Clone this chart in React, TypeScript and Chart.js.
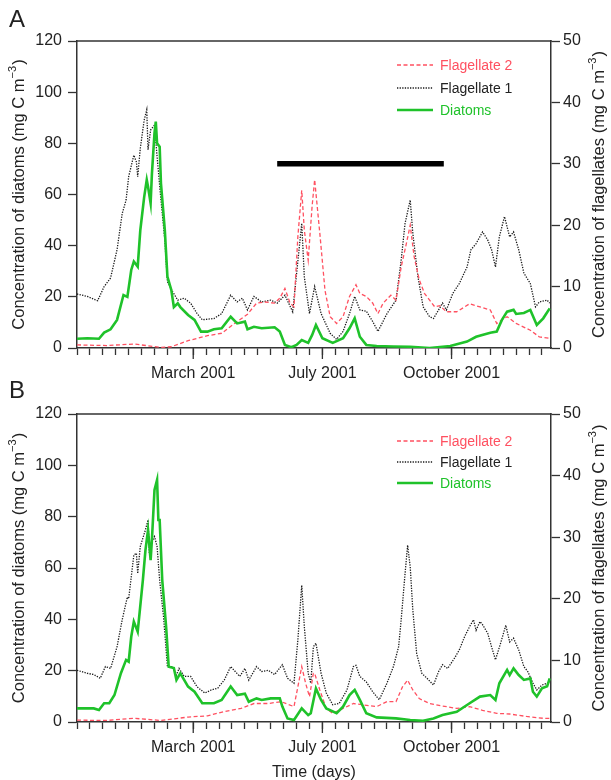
import React, { useEffect, useRef } from 'react';
import { Chart, registerables } from 'chart.js';

Chart.register(...registerables);

const FONT = '"Liberation Sans", Arial, Helvetica, sans-serif';
const AXIS = '#333333';
const TEXT = '#222222';
const RED = '#ff5060';
const BLACK = '#1a1a1a';
const GREEN = '#1fc22a';

// x axis: day of year (ticks every 10 days)
const X_MAX = 367;
const X_LABEL_DAYS = [90, 190, 290];
const X_LABEL_TEXT = ['March 2001', 'July 2001', 'October 2001'];
const LEGEND_NAMES = ['Flagellate 2', 'Flagellate 1', 'Diatoms'];

// ---------- Panel A ----------
const A_DIAT_DAYS = [0,8,17,21,26,31,36,39,42,44,47,49,52,54,55,57,58,60,61,62,64,65,68,70,73,75,78,80,86,91,96,101,106,112,119,124,130,132,137,143,153,157,161,166,170,174,179,182,185,190,198,206,211,215,219,224,232,245,258,273,289,302,309,320,325,329,333,338,340,346,351,356,361,366];
const A_DIAT_VALS = [3.6,3.8,3.6,6.0,7.3,11,20.7,20,30.5,33.8,31.8,46,59,65.7,63,56.6,68,84,88.5,80,78.7,64.4,46,27.9,22.7,16,17.5,16,12.9,11,6.4,6.4,7.3,7.7,12.2,9.6,10.3,7.3,8.3,7.7,8.1,6.4,1.2,0.3,1.2,3.1,2.0,5.0,9.0,3.8,2.0,3.8,7.7,11.6,4.4,1.2,0.8,0.6,0.5,0.0,0.8,2.5,4.4,6.0,6.4,11,14.2,14.9,13.3,13.7,14.9,9.0,11.6,15.5];

const A_FLAG1_DAYS = [0,8,16,21,26,31,35,38,40,44,46,47,49,52,54,55,57,60,62,65,68,70,74,78,83,88,93,97,106,112,119,124,128,132,137,143,150,155,161,167,174,176,180,184,189,196,201,206,211,215,219,224,229,233,240,247,251,254,258,260,264,268,273,276,280,283,286,291,296,302,305,309,314,318,321,324,327,331,335,338,342,346,351,355,358,364,366];
const A_FLAG1_VALS = [8.8,8.4,7.7,10,11.4,16,21.9,24.1,27.9,31.4,30.3,27.9,32.5,37.1,38.8,32.3,35.5,36.3,31.2,24.1,17.6,10.8,9.2,7.8,8.1,7.3,5.6,4.6,4.8,5.6,8.6,7.5,8.1,6.2,8.4,7.5,7.8,7.3,8.6,5.9,20.3,11.6,5.6,10.0,5.6,2.4,1.4,2.7,5.6,8.4,6.2,6.0,4.3,2.7,5.6,7.8,14.3,20.3,24.1,18.7,11.6,6.7,5.1,4.8,6.2,7.3,6.2,8.9,10.5,13.2,16,17,18.9,17.6,16,13.2,18.1,21.4,18.1,18.9,16,12.2,10.5,6.7,7.5,7.8,7.3];

const A_FLAG2_DAYS = [0,23,44,65,73,86,101,112,122,132,139,145,153,157,161,165,168,171,174,176,179,182,184,188,192,196,201,206,211,216,219,224,229,233,237,243,247,251,255,258,261,265,269,273,277,281,286,294,304,312,320,325,333,340,351,358,366];
const A_FLAG2_VALS = [0.5,0.4,0.65,0.1,0.2,1.2,2.0,2.4,4.0,5.5,7.3,7.5,7.3,8.1,9.7,7.3,6.7,18.1,25.7,19.2,14.3,23,27.4,18.7,9.4,5.1,4.0,5.1,8.4,10.3,8.9,8.4,7.3,5.6,7.3,8.6,7.8,13.2,17,20,14.9,11.1,8.9,7.8,6.7,6.9,5.9,5.9,7.2,6.7,6.2,4.0,5.1,4.0,2.9,1.8,1.6];

// black bar (period marker) in panel A, on flagellate axis
const A_BAR_DAYS = [155, 284];
const A_BAR_VALS = [30, 30];

// ---------- Panel B ----------
const B_DIAT_DAYS = [0,13,17,21,25,29,34,38,40,42,44,47,51,53,55,57,58,60,62,63,64,66,69,71,75,77,80,86,91,97,106,112,119,124,130,133,139,143,150,157,159,163,168,174,179,181,185,189,193,201,206,211,215,219,224,232,247,258,268,276,283,294,304,312,320,324,327,333,335,338,342,346,351,353,356,360,364,366];
const B_DIAT_VALS = [5.3,5.3,4.7,7.3,7.3,10.5,19,24.2,23.5,33.2,39.1,35.2,55.3,67,74.8,63.1,70.9,90.4,94.3,78.7,78.7,55.3,37.1,21.5,21,16.4,19,13.8,11.8,7.3,7.3,8.6,13.8,10.5,11,7.9,9.2,8.6,9.2,9.2,6.0,1.4,0.8,5.3,2.7,3.4,13.1,8.6,5.3,3.4,6.0,10.5,12.5,8.6,3.4,1.8,1.4,0.8,0.5,1.4,2.7,4.0,7.3,9.9,10.5,8.6,15.1,20.3,18.3,20.9,18.3,16.4,17,11.8,9.9,13.1,13.9,17];

const B_FLAG1_DAYS = [0,8,13,18,22,26,31,35,39,40,44,46,47,49,53,55,56,58,60,62,64,67,70,74,77,79,83,88,93,99,104,109,114,119,126,130,133,139,143,148,153,159,163,168,171,174,176,179,181,183,185,189,193,198,203,209,214,216,219,224,229,234,240,245,249,251,254,256,258,260,263,267,271,276,280,283,287,293,296,300,304,307,309,312,314,318,321,324,328,332,335,338,342,346,349,353,356,360,364,366];
const B_FLAG1_VALS = [8.4,7.9,7.7,7.1,9.0,8.7,12.2,16.6,20.3,20,27.1,27.4,24.1,28.5,31.2,32.8,27.4,29.3,30.1,28.5,23,17.1,9.0,9.0,7.6,8.7,7.4,7.4,5.7,4.7,5.2,5.5,6.8,9.0,7.4,8.7,6.8,9.0,8.2,8.4,7.7,9.3,7.1,6.3,13.3,22.2,15.5,7.9,6.3,12.2,12.8,7.9,4.7,2.8,3.0,5.2,9.0,9.2,7.4,6.5,4.9,3.6,6.3,9.0,12.2,16.6,24.1,28.7,25.2,18.2,11.1,7.9,7.1,6.0,8.2,9.3,8.7,10.6,11.7,13.8,15.5,16.6,14.9,16.3,15.8,14.4,12.2,10.1,12.8,15.7,13,13.6,11.7,9.0,8.2,6.3,5.2,6.0,6.3,6.5];

const B_FLAG2_DAYS = [0,23,44,65,86,101,114,127,137,148,158,168,171,174,177,180,183,184,188,193,198,206,214,221,232,240,247,252,256,260,265,273,283,294,304,314,325,335,348,361,366];
const B_FLAG2_VALS = [0.3,0.25,0.6,0.25,0.8,1.0,1.7,2.2,3.0,3.0,3.3,2.5,5.7,9.0,6.3,4.1,7.9,7.9,5.2,2.2,1.4,2.2,3.0,2.8,2.5,3.3,3.3,5.7,6.8,5.2,3.8,3.0,2.6,2.2,2.5,1.9,1.4,1.3,0.9,0.6,0.6];

const pts = (d: number[], v: number[]) => d.map((x, i) => ({ x, y: v[i] }));

function drawSupTitle(ctx: CanvasRenderingContext2D, cx: number, cy: number, main: string) {
  const big = `16.5px ${FONT}`;
  const small = `11px ${FONT}`;
  ctx.save();
  ctx.translate(cx, cy);
  ctx.rotate(-Math.PI / 2);
  ctx.fillStyle = TEXT;
  ctx.textBaseline = 'middle';
  ctx.textAlign = 'left';
  ctx.font = big;
  const w1 = ctx.measureText(main).width;
  const w3 = ctx.measureText(')').width;
  ctx.font = small;
  const w2 = ctx.measureText('\u22123').width;
  const total = w1 + w2 + w3 + 1;
  let x = -total / 2;
  ctx.font = big;
  ctx.fillText(main, x, 0);
  x += w1;
  ctx.font = small;
  ctx.fillText('\u22123', x, -6);
  x += w2 + 1;
  ctx.font = big;
  ctx.fillText(')', x, 0);
  ctx.restore();
}

const decorPlugin = {
  id: 'decor',
  afterDraw(chart: any, _args: any, opts: any) {
    const { ctx, chartArea: ca, scales } = chart;
    ctx.save();
    // top frame
    ctx.strokeStyle = AXIS;
    ctx.lineWidth = 1.5;
    ctx.beginPath();
    ctx.moveTo(ca.left - 0.75, ca.top);
    ctx.lineTo(ca.right + 0.75, ca.top);
    ctx.stroke();
    // longer major ticks
    ctx.lineWidth = 1.3;
    ctx.beginPath();
    for (const v of X_LABEL_DAYS) {
      const px = scales.x.getPixelForValue(v);
      ctx.moveTo(px, ca.bottom);
      ctx.lineTo(px, ca.bottom + 11);
    }
    ctx.stroke();
    // axis titles
    const cy = (ca.top + ca.bottom) / 2;
    drawSupTitle(ctx, 19, cy, 'Concentration of diatoms (mg C m');
    drawSupTitle(ctx, 599, cy, 'Concentration of flagellates (mg C m');
    // legend
    const styles = [
      { color: RED, width: 1.3, dash: [4, 2.5] },
      { color: BLACK, width: 1.3, dash: [1.3, 1.3] },
      { color: GREEN, width: 2.6, dash: [] as number[] },
    ];
    const textColors = [RED, TEXT, GREEN];
    opts.rows.forEach((y: number, i: number) => {
      const s = styles[i];
      ctx.beginPath();
      ctx.strokeStyle = s.color;
      ctx.lineWidth = s.width;
      ctx.setLineDash(s.dash);
      ctx.moveTo(397, y);
      ctx.lineTo(433, y);
      ctx.stroke();
      ctx.setLineDash([]);
      ctx.fillStyle = textColors[i];
      ctx.font = `14px ${FONT}`;
      ctx.textBaseline = 'middle';
      ctx.textAlign = 'left';
      ctx.fillText(LEGEND_NAMES[i], 440, y + 1);
    });
    ctx.restore();
  },
};

interface PanelCfg {
  diat: { x: number; y: number }[];
  flag1: { x: number; y: number }[];
  flag2: { x: number; y: number }[];
  bar?: { x: number; y: number }[];
  top: number;
  xh: number;
  xTitle: boolean;
  rows: number[];
}

function makeChart(canvas: HTMLCanvasElement, cfg: PanelCfg) {
  const tickFont = { family: FONT, size: 16 };
  const datasets: any[] = [
    { label: 'Diatoms', data: cfg.diat, yAxisID: 'y', borderColor: GREEN, borderWidth: 2.6, pointRadius: 0, tension: 0, fill: false },
    { label: 'Flagellate 2', data: cfg.flag2, yAxisID: 'y1', borderColor: RED, borderWidth: 1.3, borderDash: [4, 2.5], pointRadius: 0, tension: 0, fill: false },
    { label: 'Flagellate 1', data: cfg.flag1, yAxisID: 'y1', borderColor: BLACK, borderWidth: 1.3, borderDash: [1.3, 1.3], pointRadius: 0, tension: 0, fill: false },
  ];
  if (cfg.bar) {
    datasets.push({ label: 'bar', data: cfg.bar, yAxisID: 'y1', borderColor: '#000', borderWidth: 5.5, borderCapStyle: 'butt', pointRadius: 0, fill: false });
  }
  return new Chart(canvas, {
    type: 'line',
    data: { datasets },
    plugins: [decorPlugin],
    options: {
      animation: false,
      responsive: false,
      devicePixelRatio: 1,
      layout: { padding: { top: cfg.top, left: 0, right: 0, bottom: 0 } },
      plugins: {
        legend: { display: false },
        tooltip: { enabled: false },
        decor: { rows: cfg.rows },
      } as any,
      scales: {
        x: {
          type: 'linear',
          min: 0,
          max: X_MAX,
          afterFit: (s: any) => { s.height = cfg.xh; },
          grid: { drawOnChartArea: false, drawTicks: true, tickLength: 7, tickColor: AXIS, tickWidth: 1.3 },
          border: { color: AXIS, width: 1.5 },
          ticks: {
            stepSize: 10,
            includeBounds: false,
            autoSkip: false,
            maxRotation: 0,
            minRotation: 0,
            padding: 9,
            color: TEXT,
            font: tickFont,
            callback: (v: any) => {
              const i = X_LABEL_DAYS.indexOf(Number(v));
              return i >= 0 ? X_LABEL_TEXT[i] : '';
            },
          },
          title: { display: cfg.xTitle, text: 'Time (days)', color: TEXT, font: { family: FONT, size: 16 }, padding: { top: 0, bottom: -2 } },
        },
        y: {
          position: 'left',
          min: 0,
          max: 120,
          afterFit: (s: any) => { s.width = 77; },
          grid: { drawOnChartArea: false, tickLength: 9, tickColor: AXIS, tickWidth: 1.3 },
          border: { color: AXIS, width: 1.5 },
          ticks: { stepSize: 20, padding: 6, color: TEXT, font: tickFont },
        },
        y1: {
          position: 'right',
          min: 0,
          max: 50,
          afterFit: (s: any) => { s.width = 60; },
          grid: { drawOnChartArea: false, tickLength: 9, tickColor: AXIS, tickWidth: 1.3 },
          border: { color: AXIS, width: 1.5 },
          ticks: { stepSize: 10, padding: 3, color: TEXT, font: tickFont },
        },
      },
    } as any,
  });
}

export default function App() {
  const refA = useRef<HTMLCanvasElement>(null);
  const refB = useRef<HTMLCanvasElement>(null);

  useEffect(() => {
    const ca = makeChart(refA.current!, {
      diat: pts(A_DIAT_DAYS, A_DIAT_VALS),
      flag1: pts(A_FLAG1_DAYS, A_FLAG1_VALS),
      flag2: pts(A_FLAG2_DAYS, A_FLAG2_VALS),
      bar: pts(A_BAR_DAYS, A_BAR_VALS),
      top: 41,
      xh: 42,
      xTitle: false,
      rows: [65, 88, 110],
    });
    const cb = makeChart(refB.current!, {
      diat: pts(B_DIAT_DAYS, B_DIAT_VALS),
      flag1: pts(B_FLAG1_DAYS, B_FLAG1_VALS),
      flag2: pts(B_FLAG2_DAYS, B_FLAG2_VALS),
      top: 24,
      xh: 58,
      xTitle: true,
      rows: [51, 72, 93],
    });
    return () => {
      ca.destroy();
      cb.destroy();
    };
  }, []);

  const label: React.CSSProperties = {
    position: 'absolute',
    left: 9,
    fontFamily: FONT,
    fontSize: 24,
    lineHeight: '24px',
    color: TEXT,
  };

  return (
    <div style={{ position: 'absolute', left: 0, top: 0, width: 611, height: 780, background: '#fff', overflow: 'hidden' }}>
      <canvas ref={refA} width={611} height={390} style={{ position: 'absolute', left: 0, top: 0, width: 611, height: 390 }} />
      <canvas ref={refB} width={611} height={390} style={{ position: 'absolute', left: 0, top: 390, width: 611, height: 390 }} />
      <div style={{ ...label, top: 7 }}>A</div>
      <div style={{ ...label, top: 378 }}>B</div>
    </div>
  );
}
